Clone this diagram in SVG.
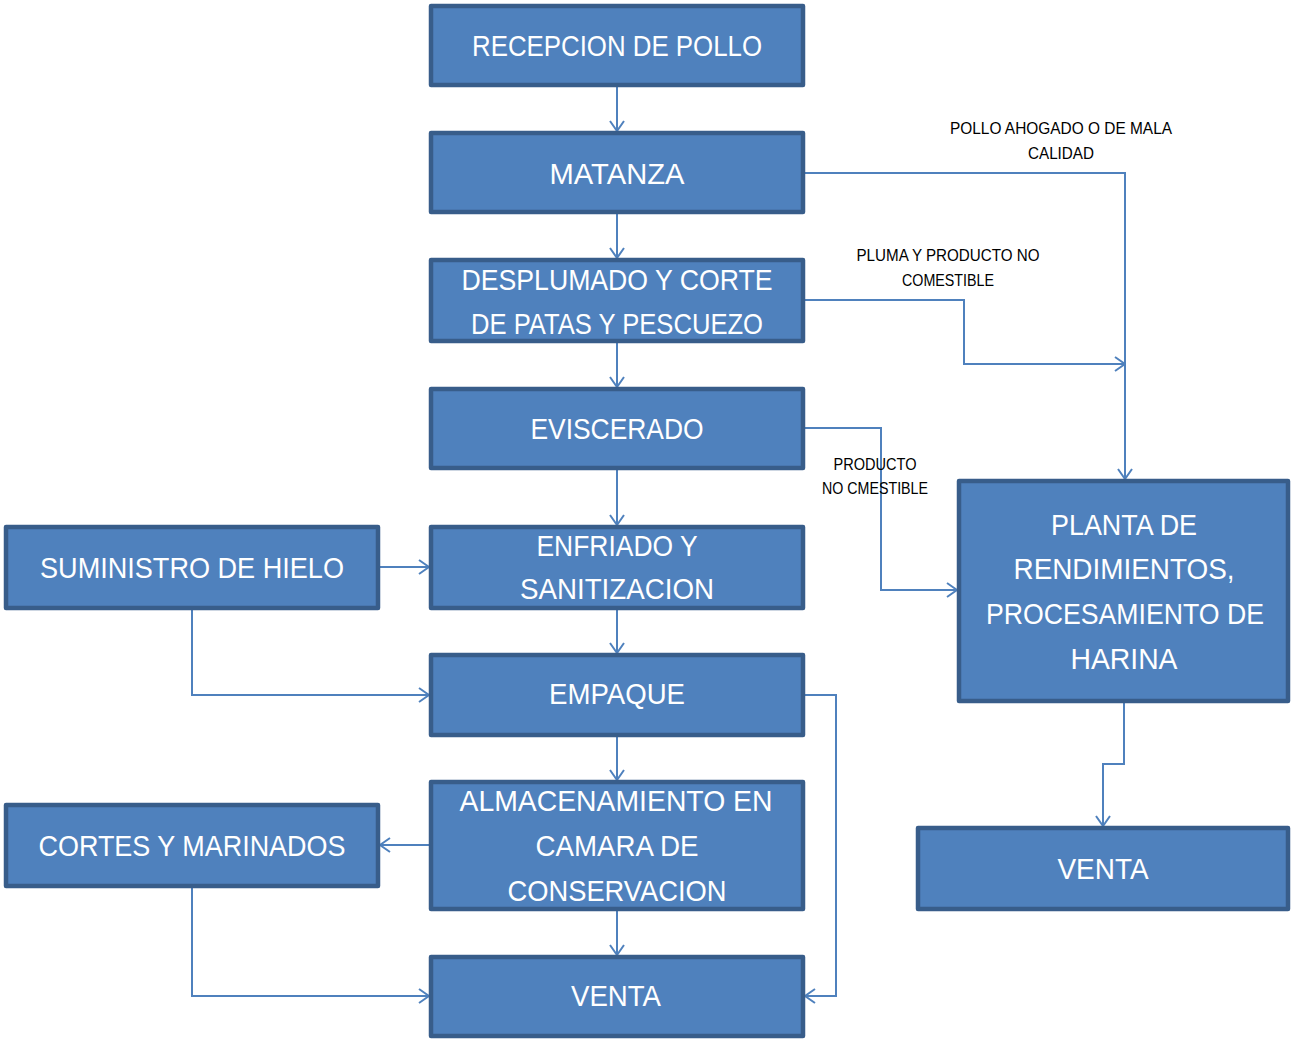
<svg xmlns="http://www.w3.org/2000/svg" width="1291" height="1040" viewBox="0 0 1291 1040">
<style>
.box{fill:#4F81BD;stroke:#385D8A;stroke-width:4.5;stroke-linejoin:round}
.bt{font-family:"Liberation Sans",Arial,sans-serif;font-size:30px;fill:#fff;text-anchor:middle}
.lb{font-family:"Liberation Sans",Arial,sans-serif;font-size:17px;fill:#000;text-anchor:middle}
.c{fill:none;stroke:#4F81BD;stroke-width:2;marker-end:url(#a)}
</style>
<defs>
<marker id="a" viewBox="0 0 12 16" refX="11" refY="8" markerWidth="12" markerHeight="16" markerUnits="userSpaceOnUse" orient="auto">
<path d="M1,1 L11,8 L1,15" fill="none" stroke="#4F81BD" stroke-width="2"/>
</marker>
</defs>
<g id="connectors">
<path class="c" d="M617,87 V131"/>
<path class="c" d="M617,214 V258"/>
<path class="c" d="M617,343 V387"/>
<path class="c" d="M617,470 V525"/>
<path class="c" d="M617,610 V653"/>
<path class="c" d="M617,737 V780"/>
<path class="c" d="M617,911 V955"/>
<path class="c" d="M805,173 H1125 V479"/>
<path class="c" d="M805,300 H964 V364 H1125"/>
<path class="c" d="M805,428 H881 V590 H957"/>
<path class="c" d="M380,567 H429"/>
<path class="c" d="M192,610 V695 H429"/>
<path class="c" d="M805,695 H836 V996 H805"/>
<path class="c" d="M429,845 H380"/>
<path class="c" d="M192,888 V996 H429"/>
<path class="c" d="M1124,703 V764 H1103 V826"/>
</g>
<g id="labels">
<text class="lb" x="1061" y="134" textLength="222" lengthAdjust="spacingAndGlyphs">POLLO AHOGADO O DE MALA</text>
<text class="lb" x="1061" y="159" textLength="66" lengthAdjust="spacingAndGlyphs">CALIDAD</text>
<text class="lb" x="948" y="261" textLength="183" lengthAdjust="spacingAndGlyphs">PLUMA Y PRODUCTO  NO</text>
<text class="lb" x="948" y="286" textLength="92" lengthAdjust="spacingAndGlyphs">COMESTIBLE</text>
<text class="lb" x="875" y="470" textLength="83" lengthAdjust="spacingAndGlyphs">PRODUCTO</text>
<text class="lb" x="875" y="494" textLength="106" lengthAdjust="spacingAndGlyphs">NO CMESTIBLE</text>
</g>
<g id="n1"><rect class="box" x="431" y="6" width="372" height="79"/><text class="bt" x="617" y="56" textLength="290" lengthAdjust="spacingAndGlyphs">RECEPCION DE POLLO</text></g>
<g id="n2"><rect class="box" x="431" y="133" width="372" height="79"/><text class="bt" x="617" y="184" textLength="135" lengthAdjust="spacingAndGlyphs">MATANZA</text></g>
<g id="n3"><rect class="box" x="431" y="260" width="372" height="81"/><text class="bt" x="617" y="290" textLength="311" lengthAdjust="spacingAndGlyphs">DESPLUMADO Y CORTE</text><text class="bt" x="617" y="334" textLength="292" lengthAdjust="spacingAndGlyphs">DE PATAS Y PESCUEZO</text></g>
<g id="n4"><rect class="box" x="431" y="389" width="372" height="79"/><text class="bt" x="617" y="439" textLength="173" lengthAdjust="spacingAndGlyphs">EVISCERADO</text></g>
<g id="n5"><rect class="box" x="431" y="527" width="372" height="81"/><text class="bt" x="617" y="556" textLength="161" lengthAdjust="spacingAndGlyphs">ENFRIADO Y</text><text class="bt" x="617" y="599" textLength="194" lengthAdjust="spacingAndGlyphs">SANITIZACION</text></g>
<g id="n6"><rect class="box" x="431" y="655" width="372" height="80"/><text class="bt" x="617" y="704" textLength="136" lengthAdjust="spacingAndGlyphs">EMPAQUE</text></g>
<g id="n7"><rect class="box" x="431" y="782" width="372" height="127"/><text class="bt" x="616" y="811" textLength="313" lengthAdjust="spacingAndGlyphs">ALMACENAMIENTO EN</text><text class="bt" x="617" y="856" textLength="163" lengthAdjust="spacingAndGlyphs">CAMARA DE</text><text class="bt" x="617" y="901" textLength="219" lengthAdjust="spacingAndGlyphs">CONSERVACION</text></g>
<g id="n8"><rect class="box" x="431" y="957" width="372" height="79"/><text class="bt" x="616" y="1006" textLength="90" lengthAdjust="spacingAndGlyphs">VENTA</text></g>
<g id="n9"><rect class="box" x="6" y="527" width="372" height="81"/><text class="bt" x="192" y="578" textLength="304" lengthAdjust="spacingAndGlyphs">SUMINISTRO DE HIELO</text></g>
<g id="n10"><rect class="box" x="6" y="805" width="372" height="81"/><text class="bt" x="192" y="856" textLength="307" lengthAdjust="spacingAndGlyphs">CORTES Y MARINADOS</text></g>
<g id="n11"><rect class="box" x="959" y="481" width="329" height="220"/><text class="bt" x="1124" y="535" textLength="146" lengthAdjust="spacingAndGlyphs">PLANTA DE</text><text class="bt" x="1124" y="579" textLength="221" lengthAdjust="spacingAndGlyphs">RENDIMIENTOS,</text><text class="bt" x="1125" y="624" textLength="278" lengthAdjust="spacingAndGlyphs">PROCESAMIENTO DE</text><text class="bt" x="1124" y="669" textLength="107" lengthAdjust="spacingAndGlyphs">HARINA</text></g>
<g id="n12"><rect class="box" x="918" y="828" width="370" height="81"/><text class="bt" x="1103" y="879" textLength="91" lengthAdjust="spacingAndGlyphs">VENTA</text></g>
</svg>
